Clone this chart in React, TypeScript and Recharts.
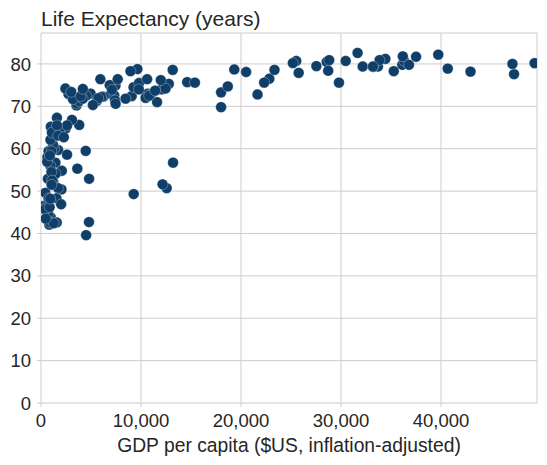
import React from "react";
import { ScatterChart, Scatter, XAxis, YAxis, CartesianGrid } from "recharts";

const gdpPerCapita: number[] = [
  974.6, 5937.0, 6223.4, 4797.2, 12779.4, 34435.4, 36126.5, 29796.0, 1391.3, 33692.6,
  1441.3, 3822.1, 7446.3, 12569.9, 9065.8, 10680.8, 1217.0, 430.1, 1713.8, 2042.1,
  36319.2, 706.0, 1704.1, 13171.6, 4959.1, 7006.6, 986.1, 277.6, 3632.6, 9645.1,
  1544.8, 14619.2, 8948.1, 22833.3, 35278.4, 2082.5, 6025.4, 6873.3, 5581.2, 5728.4,
  12154.1, 641.4, 690.8, 33207.1, 30470.0, 13206.5, 752.7, 32170.4, 1327.6, 27538.4,
  5186.1, 942.7, 579.2, 1201.6, 3548.3, 39725.0, 18008.9, 36180.8, 2452.2, 3540.7,
  11605.7, 4471.1, 40676.0, 25523.3, 28569.7, 7320.9, 31656.1, 4519.5, 1463.2, 1593.1,
  23348.1, 47307.0, 10461.1, 1569.3, 414.5, 12057.5, 1044.8, 759.3, 12451.7, 1042.6,
  1803.2, 10957.0, 11977.6, 3095.8, 9253.9, 3820.2, 823.7, 944.0, 4811.1, 1091.4,
  36797.9, 25185.0, 2749.3, 619.7, 2014.0, 49357.2, 22316.2, 2606.0, 9809.2, 4172.8,
  7408.9, 3190.5, 15389.9, 20509.6, 19328.7, 7670.1, 10808.5, 863.1, 1598.4, 21654.8,
  1712.5, 9786.5, 862.5, 47143.2, 18678.3, 25768.3, 926.1, 9269.7, 28821.1, 3970.1,
  2602.4, 4513.5, 33859.7, 37506.4, 4184.5, 28718.3, 1107.5, 7458.4, 883.0, 18008.5,
  7092.9, 8458.3, 1056.4, 33203.3, 42951.7, 10611.5, 11415.8, 2441.6, 3025.3, 2280.8,
  1271.2, 469.7,
];

const lifeExpectancy: number[] = [
  43.8, 76.4, 72.3, 42.7, 75.3, 81.2, 79.8, 75.6, 64.1, 79.4,
  56.7, 65.6, 74.9, 50.7, 72.4, 73.0, 52.3, 49.6, 59.7, 50.4,
  80.7, 44.7, 50.7, 78.6, 73.0, 72.9, 65.2, 46.5, 55.3, 78.8,
  48.3, 75.7, 78.3, 76.5, 78.3, 54.8, 72.2, 75.0, 71.3, 71.9,
  51.6, 58.0, 52.9, 79.3, 80.7, 56.7, 59.4, 79.4, 60.0, 79.5,
  70.3, 56.0, 46.4, 60.9, 70.2, 82.2, 73.3, 81.8, 64.7, 70.7,
  71.0, 59.5, 78.9, 80.7, 80.5, 72.6, 82.6, 72.5, 54.1, 67.3,
  78.6, 77.6, 72.0, 42.6, 45.7, 74.0, 59.4, 48.3, 74.2, 54.5,
  64.2, 72.8, 76.2, 66.8, 74.5, 71.2, 42.1, 62.1, 52.9, 63.8,
  79.8, 80.2, 72.9, 56.9, 46.9, 80.2, 75.6, 65.5, 75.5, 71.8,
  71.4, 71.7, 75.6, 78.1, 78.7, 76.4, 72.5, 46.2, 65.5, 72.8,
  63.1, 74.0, 42.6, 80.0, 74.7, 77.9, 48.2, 49.3, 80.9, 72.4,
  58.6, 39.6, 80.9, 81.7, 74.1, 78.4, 52.5, 70.6, 58.4, 69.8,
  73.9, 71.8, 51.5, 79.4, 78.2, 76.4, 73.7, 74.2, 73.4, 62.7,
  42.4, 43.5,
];

const xTicks: number[] = [0, 10000, 20000, 30000, 40000];
const yTicks: number[] = [0, 10, 20, 30, 40, 50, 60, 70, 80];

const titleText = "Life Expectancy (years)";
const xLabelText = "GDP per capita ($US, inflation-adjusted)";

const points = gdpPerCapita.map((g, i) => ({ gdp: g, life: lifeExpectancy[i] }));

const FONT = "'Liberation Sans', Arial, sans-serif";
const TEXT = "#262626";
const GRID = "#cccccc";
const DOT = "#0f3f68";

const Dot = (props: any) => (
  <circle cx={props.cx} cy={props.cy} r={5.4} fill={DOT} stroke="#ffffff" strokeWidth={0.3} />
);

export default function App() {
  return (
    <div style={{ position: "absolute", left: 0, top: 0, width: 547, height: 465, background: "#fff" }}>
      <ScatterChart width={547} height={465} margin={{ top: 33, right: 10, bottom: 0, left: 0 }}>
        <CartesianGrid stroke={GRID} strokeWidth={1} />
        <XAxis
          type="number"
          dataKey="gdp"
          domain={[0, 49600]}
          ticks={xTicks}
          allowDataOverflow
          height={62}
          axisLine={false}
          tickLine={{ stroke: GRID }}
          tickSize={4}
          tickMargin={7}
          tick={{ fill: TEXT, fontSize: 18.5, fontFamily: FONT }}
          tickFormatter={(v: number) => v.toLocaleString("en-US")}
        />
        <YAxis
          type="number"
          dataKey="life"
          domain={[0, 87.3]}
          ticks={yTicks}
          allowDataOverflow
          width={41}
          axisLine={false}
          tickLine={{ stroke: GRID }}
          tickSize={4}
          tickMargin={6}
          tick={{ fill: TEXT, fontSize: 18.5, fontFamily: FONT }}
        />
        <Scatter data={points} shape={Dot} isAnimationActive={false} />
      </ScatterChart>
      <svg
        width={547}
        height={465}
        style={{ position: "absolute", left: 0, top: 0, pointerEvents: "none" }}
      >
        <text x={41} y={26} fontSize={21} fontFamily={FONT} fill={TEXT}>
          {titleText}
        </text>
        <text x={289} y={452} fontSize={19.3} fontFamily={FONT} fill={TEXT} textAnchor="middle">
          {xLabelText}
        </text>
      </svg>
    </div>
  );
}
